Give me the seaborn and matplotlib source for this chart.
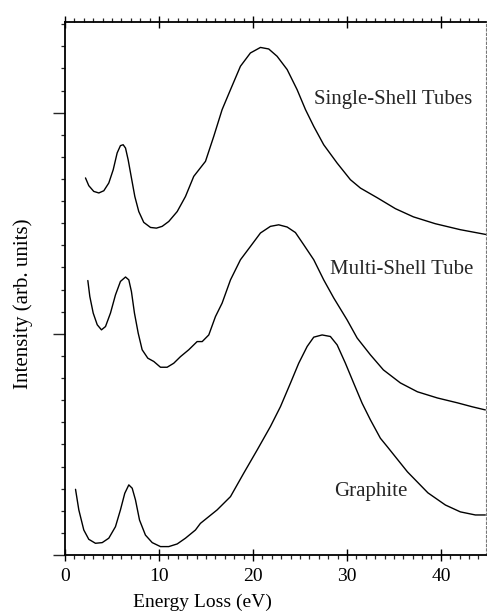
import numpy as np
import pandas as pd
import matplotlib
matplotlib.use("Agg")
import matplotlib.pyplot as plt
import seaborn as sns
from matplotlib.ticker import MultipleLocator

# ---- data ----
single_x = [2.18, 2.53, 3.06, 3.60, 4.13, 4.66, 5.13, 5.55, 5.90, 6.19, 6.44, 6.72, 7.04, 7.43,
            7.85, 8.38, 9.10, 9.73, 10.34, 11.04, 11.94, 12.82, 13.70, 14.95, 15.83, 16.72,
            17.61, 18.67, 19.73, 20.80, 21.68, 22.57, 23.64, 24.70, 25.59, 26.47, 27.53, 28.96,
            30.37, 31.44, 33.24, 35.16, 37.07, 39.4, 42.06, 44.95]
single_y = [1.705, 1.670, 1.644, 1.637, 1.647, 1.682, 1.742, 1.818, 1.851, 1.855, 1.840, 1.787,
            1.712, 1.621, 1.553, 1.504, 1.481, 1.478, 1.486, 1.508, 1.553, 1.621, 1.712, 1.780,
            1.893, 2.014, 2.104, 2.210, 2.270, 2.295, 2.288, 2.255, 2.195, 2.104, 2.014, 1.938,
            1.855, 1.772, 1.697, 1.659, 1.615, 1.566, 1.529, 1.498, 1.471, 1.448]

multi_x = [2.43, 2.64, 3.00, 3.43, 3.88, 4.31, 4.84, 5.37, 5.90, 6.44, 6.79, 7.07, 7.39, 7.79,
           8.21, 8.81, 9.45, 10.16, 10.87, 11.57, 12.29, 13.17, 14.06, 14.60, 15.30, 16.01,
           16.72, 17.61, 18.67, 19.73, 20.80, 21.86, 22.74, 23.64, 24.52, 25.40, 26.47, 27.53,
           28.60, 30.02, 31.09, 32.50, 33.88, 35.69, 37.50, 39.63, 41.76, 43.35, 44.73]
multi_y = [1.241, 1.169, 1.094, 1.041, 1.018, 1.033, 1.094, 1.176, 1.237, 1.257, 1.244, 1.191,
           1.094, 1.003, 0.928, 0.890, 0.875, 0.849, 0.849, 0.867, 0.897, 0.928, 0.965, 0.965,
           0.995, 1.078, 1.139, 1.244, 1.335, 1.395, 1.456, 1.486, 1.493, 1.483, 1.458, 1.403,
           1.335, 1.244, 1.162, 1.063, 0.981, 0.905, 0.837, 0.778, 0.738, 0.710, 0.688, 0.670,
           0.656]

graphite_x = [1.12, 1.47, 2.00, 2.53, 3.24, 3.96, 4.66, 5.37, 5.90, 6.36, 6.79, 7.15, 7.50, 7.93,
              8.56, 9.28, 10.16, 11.04, 11.94, 12.82, 13.88, 14.41, 16.19, 17.61, 19.02, 20.45,
              21.86, 22.93, 23.99, 24.87, 25.77, 26.47, 27.36, 28.24, 28.96, 29.84, 30.72, 31.62,
              32.50, 33.56, 34.31, 36.44, 38.62, 40.48, 42.07, 43.67, 44.73]
graphite_y = [0.297, 0.204, 0.113, 0.071, 0.053, 0.056, 0.076, 0.128, 0.204, 0.279, 0.317, 0.302,
              0.249, 0.158, 0.090, 0.056, 0.038, 0.038, 0.050, 0.076, 0.113, 0.143, 0.204, 0.264,
              0.370, 0.475, 0.581, 0.671, 0.777, 0.867, 0.943, 0.985, 0.995, 0.988, 0.950, 0.867,
              0.777, 0.686, 0.611, 0.528, 0.489, 0.376, 0.281, 0.226, 0.195, 0.181, 0.181]

series_names = ["Single-Shell Tubes", "Multi-Shell Tube", "Graphite"]
x_ticks = [0, 10, 20, 30, 40]

df = pd.concat([
    pd.DataFrame({"E": single_x, "I": single_y, "s": series_names[0]}),
    pd.DataFrame({"E": multi_x, "I": multi_y, "s": series_names[1]}),
    pd.DataFrame({"E": graphite_x, "I": graphite_y, "s": series_names[2]}),
], ignore_index=True)

sns.set_theme(style="ticks")
plt.rcParams["font.family"] = ["Liberation Serif", "DejaVu Serif"]

W, H = 487, 613
fig = plt.figure(figsize=(W / 100, H / 100), dpi=100)
ax = fig.add_axes([65 / W, (H - 555) / H, (486 - 65) / W, (555 - 22) / H])

sns.lineplot(data=df, x="E", y="I", units="s", estimator=None, sort=False,
             color="black", linewidth=1.0, ax=ax, legend=False)
for ln in ax.get_lines():
    ln.set_solid_joinstyle("round")
    ln.set_solid_capstyle("round")

ax.set_xlim(0, 44.8)
ax.set_ylim(0, 2.41)

ax.xaxis.set_major_locator(MultipleLocator(10))
ax.xaxis.set_minor_locator(MultipleLocator(1))
ax.yaxis.set_major_locator(MultipleLocator(1))
ax.yaxis.set_minor_locator(MultipleLocator(0.1))
ax.set_xticks(x_ticks)
ax.set_xticklabels([str(t) for t in x_ticks])
ax.set_yticklabels([])

ax.tick_params(axis="x", which="major", direction="inout", length=9, width=1.0,
               labelsize=14, pad=5, top=True, colors="black")
ax.tick_params(axis="x", which="minor", direction="out", length=3, width=0.9, top=True)
ax.tick_params(axis="y", which="major", direction="out", length=9, width=1.0, left=True)
ax.tick_params(axis="y", which="minor", direction="out", length=3, width=0.9, left=True)

for side in ["left", "bottom", "top"]:
    ax.spines[side].set_visible(True)
    ax.spines[side].set_linewidth(1.3)
    ax.spines[side].set_color("black")
ax.spines["right"].set_visible(True)
ax.spines["right"].set_linestyle((0, (2, 2)))
ax.spines["right"].set_linewidth(0.8)
ax.spines["right"].set_color("#777777")

ax.set_xlabel("Energy Loss (eV)", fontsize=14, color="black")
ax.xaxis.set_label_coords((202 - 65) / 421, -0.072)
ax.set_ylabel("Intensity (arb. units)", fontsize=15, color="black")
ax.yaxis.set_label_coords(-0.077, 0.471)

ax.text(26.5, 2.06, series_names[0], fontsize=15, va="center", ha="left")
ax.text(28.2, 1.29, series_names[1], fontsize=15, va="center", ha="left")
ax.text(28.6, 0.285, series_names[2], fontsize=15, va="center", ha="left")

fig.savefig("out.png", dpi=100)
